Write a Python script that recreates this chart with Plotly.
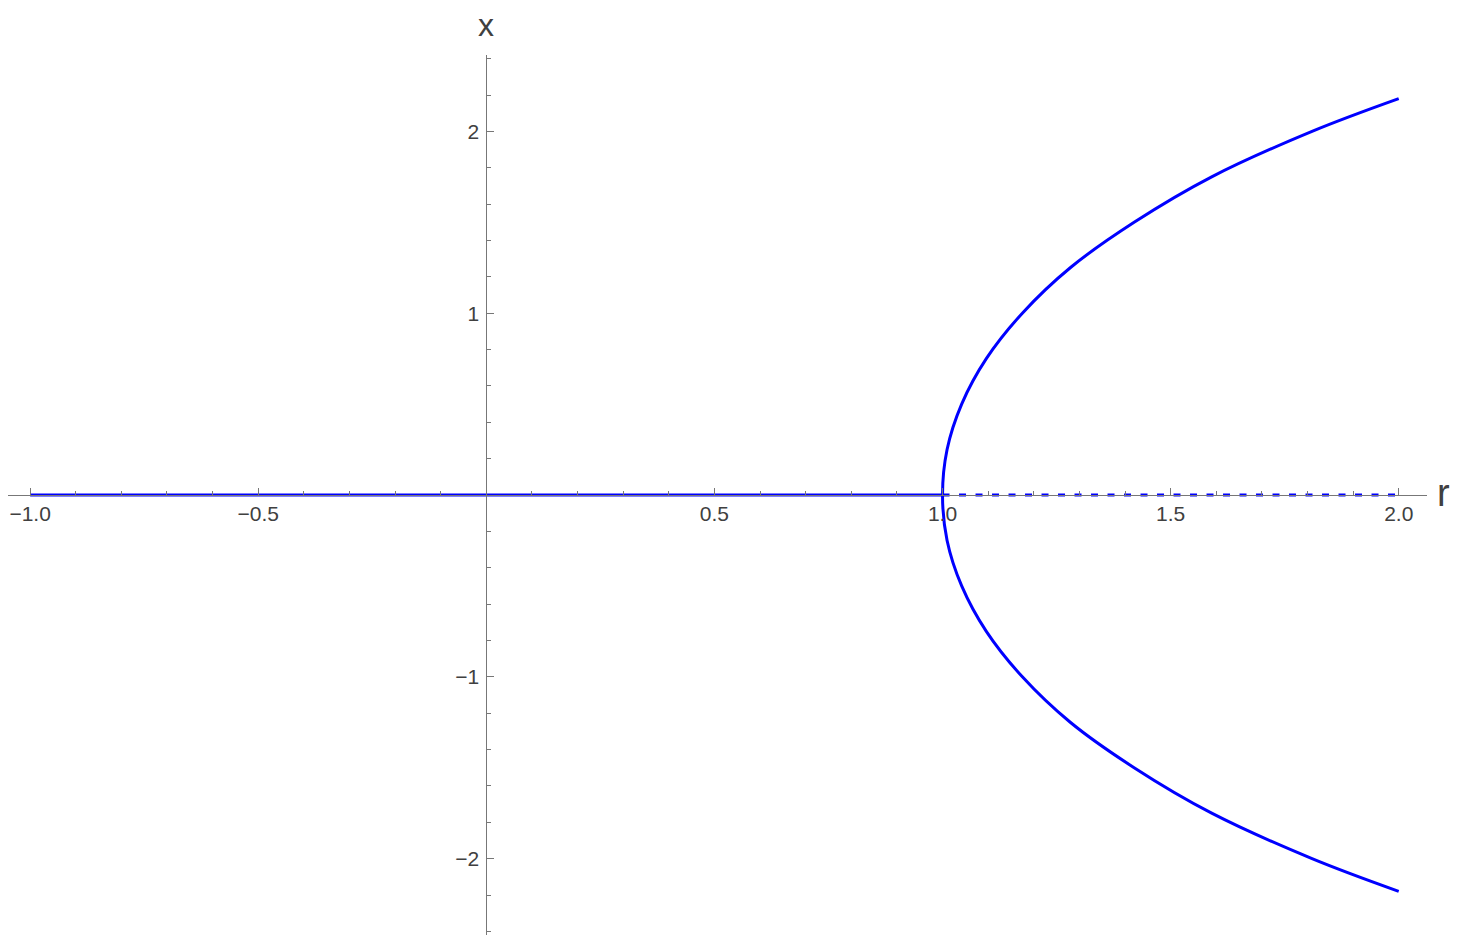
import plotly.graph_objects as go

# stable fixed point x = 0 for r < 1 (solid)
stable_r = [-1.0, 1.0]
stable_x = [0.0, 0.0]

# unstable fixed point x = 0 for r > 1 (dashed)
unstable_r = [1.0, 2.0]
unstable_x = [0.0, 0.0]

# pitchfork branches, values
branch_x = [-2.18, -2.0, -1.75, -1.5, -1.25, -1.0, -0.75, -0.5, -0.25, 0.0,
            0.25, 0.5, 0.75, 1.0, 1.25, 1.5, 1.75, 2.0, 2.18]
branch_r = [2.0, 1.81, 1.59, 1.42, 1.28, 1.175, 1.096, 1.042, 1.01, 1.0,
            1.01, 1.042, 1.096, 1.175, 1.28, 1.42, 1.59, 1.81, 2.0]

x_tick_vals = [-1.0, -0.5, 0.5, 1.0, 1.5, 2.0]
x_tick_text = ['\u22121.0', '\u22120.5', '0.5', '1.0', '1.5', '2.0']
y_tick_vals = [-2, -1, 1, 2]
y_tick_text = ['\u22122', '\u22121', '1', '2']

BLUE = '#0000ff'
AXIS = '#777777'
TEXT = '#404040'
FONT = 'Liberation Sans, Arial, sans-serif'

# the page body has an 8px margin, so the figure is a bit smaller than the window
X_RANGE = [-1.0485, 2.062]
Y_RANGE = [-2.42, 2.42]

fig = go.Figure()

fig.add_trace(go.Scatter(x=stable_r, y=stable_x, mode='lines',
                         line=dict(color=BLUE, width=3.2)))
fig.add_trace(go.Scatter(x=unstable_r, y=unstable_x, mode='lines',
                         line=dict(color=BLUE, width=3.2, dash='7px,9.5px')))
fig.add_trace(go.Scatter(x=branch_r, y=branch_x, mode='lines',
                         line=dict(color=BLUE, width=3, shape='spline',
                                   smoothing=1.0)))

fig.update_layout(
    width=1451, height=931,
    margin=dict(l=0, r=32, t=47, b=4),
    paper_bgcolor='white', plot_bgcolor='white',
    showlegend=False,
    font=dict(family=FONT, color=TEXT),
    xaxis=dict(range=X_RANGE, anchor='free', position=0.5,
               automargin=False,
               showline=True, linecolor=AXIS, linewidth=1,
               showgrid=False, zeroline=False,
               ticks='inside', ticklen=7, tickcolor=AXIS, tickwidth=1,
               tickmode='array', tickvals=x_tick_vals, ticktext=x_tick_text,
               tickfont=dict(size=21, color=TEXT, family=FONT),
               minor=dict(ticks='inside', ticklen=4, tickcolor=AXIS,
                          dtick=0.1, tick0=0, showgrid=False)),
    yaxis=dict(range=Y_RANGE, anchor='free',
               position=-X_RANGE[0] / (X_RANGE[1] - X_RANGE[0]),
               automargin=False, ticklabelstandoff=3,
               showline=True, linecolor=AXIS, linewidth=1,
               showgrid=False, zeroline=False,
               ticks='inside', ticklen=7, tickcolor=AXIS, tickwidth=1,
               tickmode='array', tickvals=y_tick_vals, ticktext=y_tick_text,
               tickfont=dict(size=21, color=TEXT, family=FONT),
               minor=dict(ticks='inside', ticklen=4, tickcolor=AXIS,
                          dtick=0.2, tick0=0, showgrid=False)),
    annotations=[
        dict(text='x', xref='x', x=0, yref='paper', y=1 + 30 / 880,
             xanchor='center', yanchor='middle', borderpad=0,
             showarrow=False, font=dict(size=32, color=TEXT, family=FONT)),
        dict(text='r', xref='paper', x=1 + 9 / 1419, yref='y', y=0.01,
             xanchor='left', yanchor='middle', borderpad=0,
             showarrow=False, font=dict(size=38, color=TEXT, family=FONT)),
    ],
)

fig.write_html("out.html")
